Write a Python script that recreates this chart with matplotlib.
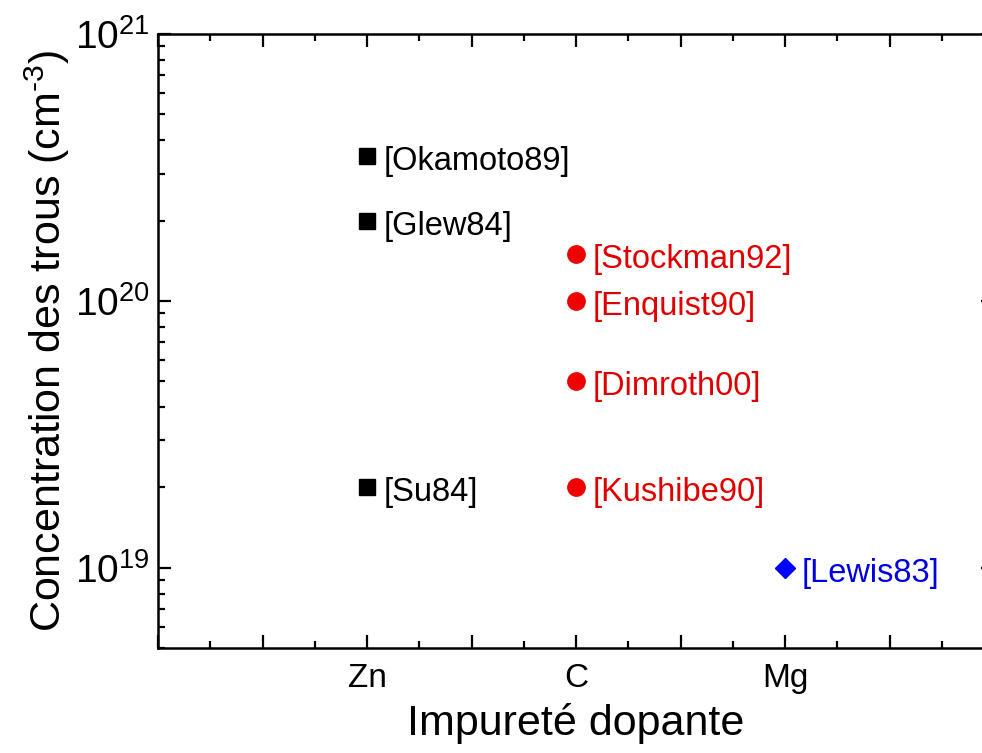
import numpy as np
import matplotlib.pyplot as plt
from matplotlib.ticker import MultipleLocator, LogLocator

plt.rcParams['font.family'] = ['Liberation Sans', 'DejaVu Sans']
plt.rcParams['mathtext.fontset'] = 'custom'
plt.rcParams['mathtext.rm'] = 'Liberation Sans'
plt.rcParams['mathtext.it'] = 'Liberation Sans'
plt.rcParams['mathtext.default'] = 'regular'

# dopant categories on x axis
categories = ["Zn", "C", "Mg"]
cat_pos = [1, 2, 3]

# hole concentrations (cm^-3) per reference
zn_refs = ["[Okamoto89]", "[Glew84]", "[Su84]"]
zn_vals = [3.5e20, 2.0e20, 2.0e19]
c_refs = ["[Stockman92]", "[Enquist90]", "[Dimroth00]", "[Kushibe90]"]
c_vals = [1.5e20, 1.0e20, 5.0e19, 2.0e19]
mg_refs = ["[Lewis83]"]
mg_vals = [1.0e19]

fig = plt.figure(figsize=(9.82, 7.53), dpi=100)
ax = fig.add_axes([158/982, 105/753, (994-158)/982, (648-34)/753])

groups = [
    (1, zn_refs, zn_vals, 's', 11, 'black', 'black'),
    (2, c_refs, c_vals, 'o', 12.5, '#f00000', '#e00000'),
    (3, mg_refs, mg_vals, 'D', 10, '#0000ff', '#0000e0'),
]
for xpos, refs, vals, mk, ms, col, tcol in groups:
    ax.plot([xpos]*len(vals), vals, linestyle='none', marker=mk, markersize=ms,
            color=col, clip_on=False)
    for r, v in zip(refs, vals):
        ax.annotate(r, (xpos, v), xytext=(12, -4), textcoords='offset points',
                    ha='left', va='center', fontsize=23.5, color=tcol)

ax.set_yscale('log')
ax.set_ylim(5e18, 1e21)
ax.set_xlim(0, 4)

major_x = np.arange(0, 4.01, 0.5)
ax.set_xticks(major_x)
ax.set_xticklabels([categories[cat_pos.index(int(t))] if t in cat_pos else '' for t in major_x])
ax.xaxis.set_minor_locator(MultipleLocator(0.25))

ax.yaxis.set_major_locator(LogLocator(base=10, numticks=10))
ax.yaxis.set_minor_locator(LogLocator(base=10, subs=np.arange(2, 10), numticks=20))

ax.tick_params(which='both', direction='in', top=True, right=True, width=1.6)
ax.tick_params(which='major', length=9.5)
ax.tick_params(which='minor', length=5)
ax.tick_params(axis='x', which='major', labelsize=24, pad=11)
ax.tick_params(axis='y', which='major', labelsize=28, pad=6)
for s in ax.spines.values():
    s.set_linewidth(1.8)

ax.set_xlabel("Impureté dopante", fontsize=31, labelpad=6)
ax.set_ylabel("Concentration des trous (cm$^{\\text{-}3}$)", fontsize=31, labelpad=2)

fig.savefig("out.png", dpi=100)
